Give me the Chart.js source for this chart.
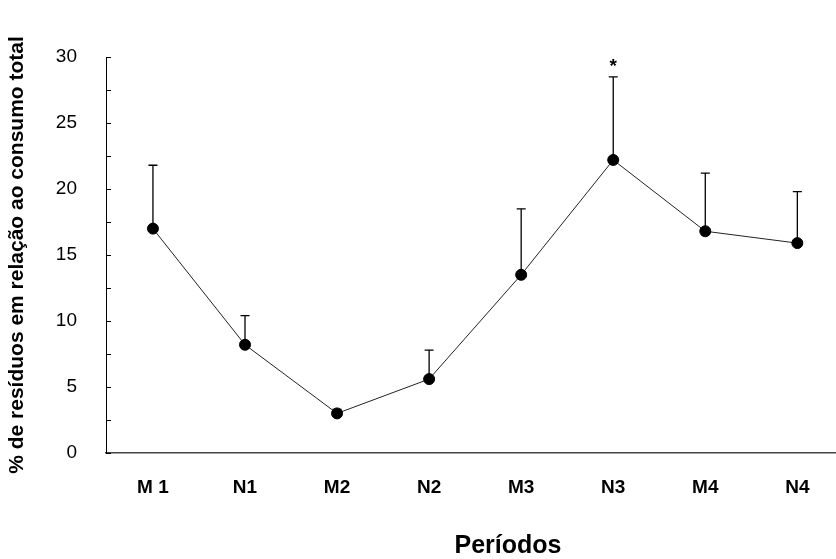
<!DOCTYPE html>
<html>
<head>
<meta charset="utf-8">
<script src="https://cdn.jsdelivr.net/npm/chart.js@4.4.1/dist/chart.umd.min.js"></script>
<style>
  html, body { margin: 0; padding: 0; background: #fff; overflow: hidden; }
  #wrap { width: 836px; height: 559px; }
</style>
</head>
<body>
<div id="wrap"><canvas id="chart"></canvas></div>
<script>
const periodos = ['M 1', 'N1', 'M2', 'N2', 'M3', 'N3', 'M4', 'N4'];
const medias = [17.0, 8.2, 3.0, 5.6, 13.5, 22.2, 16.8, 15.9];
const limiteSuperior = [21.8, 10.4, 3.3, 7.8, 18.5, 28.5, 21.2, 19.8];
const marcas = ['', '', '', '', '', '*', '', ''];

const FONT = 'Arial, "Liberation Sans", sans-serif';

const errorBars = {
    id: 'errorBars',
    afterDatasetsDraw: (chart) => {
        const { ctx, scales: { x, y } } = chart;
        ctx.save();
        ctx.strokeStyle = '#000';
        ctx.lineWidth = 1.3;
        medias.forEach((v, i) => {
            const px = x.getPixelForValue(i);
            const top = y.getPixelForValue(limiteSuperior[i]);
            const base = y.getPixelForValue(v);
            ctx.beginPath();
            ctx.moveTo(px, base);
            ctx.lineTo(px, top);
            ctx.moveTo(px - 4.5, top);
            ctx.lineTo(px + 4.5, top);
            ctx.stroke();
            if (marcas[i]) {
                ctx.fillStyle = '#000';
                ctx.font = `bold 19px ${FONT}`;
                ctx.textAlign = 'center';
                ctx.textBaseline = 'middle';
                ctx.fillText(marcas[i], px, top - 10);
            }
        });
        ctx.restore();
    }
};

// ticks pointing inwards + x title
const axisDecor = {
    id: 'axisDecor',
    afterDraw: (chart) => {
        const { ctx, chartArea, scales: { y } } = chart;
        ctx.save();
        ctx.strokeStyle = '#000';
        ctx.lineWidth = 1;
        y.ticks.forEach((t) => {
            const py = Math.round(y.getPixelForValue(t.value)) + 0.5;
            ctx.beginPath();
            ctx.moveTo(chartArea.left, py);
            ctx.lineTo(chartArea.left + 5, py);
            ctx.stroke();
        });
        ctx.fillStyle = '#000';
        ctx.font = `bold 25px ${FONT}`;
        ctx.textAlign = 'center';
        ctx.textBaseline = 'middle';
        ctx.fillText('Períodos', 508, 546);
        ctx.restore();
    }
};

new Chart(document.getElementById('chart'), {
    type: 'line',
    data: {
        datasets: [{
            data: medias.map((v, i) => ({ x: i, y: v })),
            borderColor: '#222',
            borderWidth: 1,
            pointBackgroundColor: '#000',
            pointBorderColor: '#000',
            pointRadius: 5.5,
            tension: 0,
            fill: false,
            clip: false
        }]
    },
    options: {
        responsive: true,
        maintainAspectRatio: false,
        animation: false,
        layout: { autoPadding: false, padding: { top: 57, right: 0, left: 0, bottom: 0 } },
        plugins: { legend: { display: false }, tooltip: { enabled: false } },
        scales: {
            x: {
                type: 'linear',
                min: -0.51,
                max: 7.42,
                afterBuildTicks: (scale) => {
                    scale.ticks = periodos.map((_, i) => ({ value: i }));
                },
                afterFit: (scale) => {
                    scale.height = 106;
                    scale.paddingRight = 0;
                    scale.paddingLeft = 0;
                },
                border: { display: true, color: '#444', width: 1.5 },
                grid: { display: false },
                ticks: {
                    color: '#000',
                    font: { family: FONT, size: 19, weight: 'bold' },
                    padding: 15,
                    maxRotation: 0,
                    callback: (value) => periodos[value] ?? ''
                }
            },
            y: {
                min: 0,
                max: 30,
                afterFit: (scale) => { scale.width = 106; },
                border: { display: true, color: '#000', width: 1 },
                grid: { display: false },
                ticks: {
                    stepSize: 2.5,
                    color: '#000',
                    font: { family: FONT, size: 19 },
                    padding: 21,
                    callback: (value) => (value % 5 === 0 ? String(value) : '')
                },
                title: {
                    display: true,
                    text: '% de resíduos em relação ao consumo total',
                    color: '#000',
                    font: { family: FONT, size: 21, weight: 'bold' },
                    padding: { top: 5, bottom: 8 }
                }
            }
        }
    },
    plugins: [errorBars, axisDecor]
});
</script>
</body>
</html>
